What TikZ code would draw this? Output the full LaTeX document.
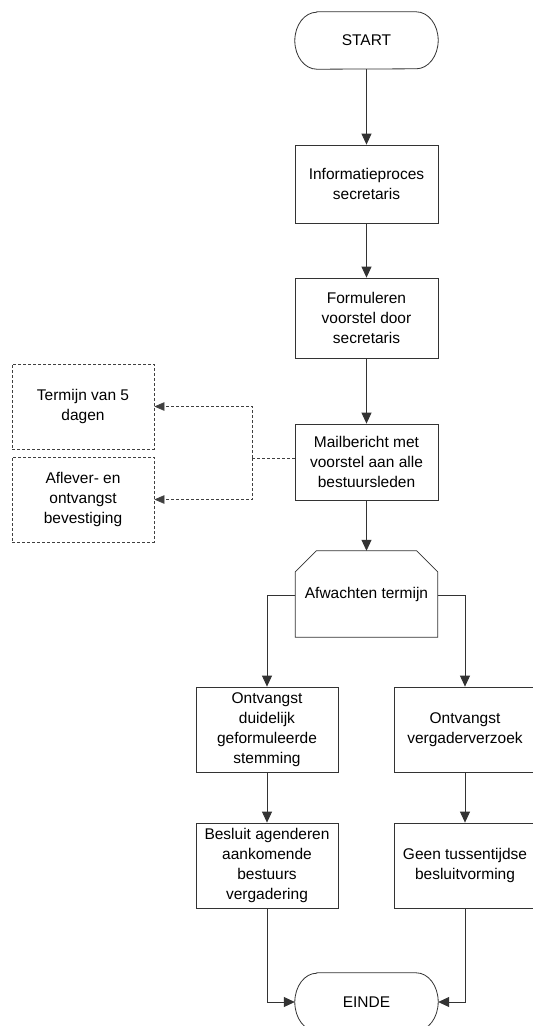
\documentclass[tikz,border=0pt]{standalone}
\usepackage{fontspec}
\setmainfont{Liberation Sans}
\usetikzlibrary{arrows.meta}
\begin{document}
\begin{tikzpicture}[x=1pt,y=-1pt,
  every node/.style={font=\fontsize{15.5}{20}\selectfont, align=center, text=black, inner sep=0pt},
  ln/.style={draw=black!80, line width=0.8pt},
  arr/.style={ln, -{Triangle[length=11pt,width=10pt]}},
  darr/.style={draw=black!75, line width=0.8pt, dash pattern=on 3pt off 2pt, -{Triangle[length=10pt,width=8.5pt]}},
  dline/.style={draw=black!75, line width=0.8pt, dash pattern=on 3pt off 2pt},
  proc/.style={ln, rectangle, minimum width=143pt, minimum height=80pt},
  term/.style={rectangle, minimum width=143pt, minimum height=57pt},
  note/.style={dline, rectangle, minimum width=142pt, minimum height=85pt}
]
\useasboundingbox (0,0) rectangle (533,1026);
\fill[white] (0,0) rectangle (533,1026);

\node[term] (start) at (366.5,40.5) {START};
\draw[ln] ([xshift=22pt]start.north west) -- ([xshift=-22pt]start.north east)
  arc[start angle=90, end angle=-90, x radius=22pt, y radius=28.5pt]
  -- ([xshift=22pt]start.south west)
  arc[start angle=270, end angle=90, x radius=22pt, y radius=28.5pt] -- cycle;

\node[proc, minimum height=78pt] (info) at (366.5,184) {Informatieproces\\secretaris};
\node[proc] (form) at (366.5,318) {Formuleren\\voorstel door\\secretaris};
\node[proc, minimum height=76pt] (mail) at (366.5,462) {Mailbericht met\\voorstel aan alle\\bestuursleden};

\node[note] (termijn) at (83,406.5) {Termijn van 5\\dagen};
\node[note] (aflever) at (83,499.5) {Aflever- en\\ontvangst\\bevestiging};

\node[minimum width=142pt, minimum height=86pt] (afw) at (366.5,594) {Afwachten termijn};
\draw[ln] (afw.south west) -- ([yshift=-21pt]afw.north west) -- ([xshift=21pt]afw.north west)
  -- ([xshift=-21pt]afw.north east) -- ([yshift=-21pt]afw.north east) -- (afw.south east) -- cycle;

\node[proc, minimum width=142pt, minimum height=85pt] (stem) at (267,729.5) {Ontvangst\\duidelijk\\geformuleerde\\stemming};
\node[proc, minimum width=142pt, minimum height=85pt] (verz) at (465,729.5) {Ontvangst\\vergaderverzoek};
\node[proc, minimum width=142pt, minimum height=85pt] (bes) at (267,865.5) {Besluit agenderen\\aankomende\\bestuurs\\vergadering};
\node[proc, minimum width=142pt, minimum height=85pt] (geen) at (465,865.5) {Geen tussentijdse\\besluitvorming};

\node[term, minimum height=58pt] (einde) at (366.5,1002) {EINDE};
\draw[ln] ([xshift=22pt]einde.north west) -- ([xshift=-22pt]einde.north east)
  arc[start angle=90, end angle=-90, x radius=22pt, y radius=29pt]
  -- ([xshift=22pt]einde.south west)
  arc[start angle=270, end angle=90, x radius=22pt, y radius=29pt] -- cycle;

\draw[arr] (start) -- (info);
\draw[arr] (info) -- (form);
\draw[arr] (form) -- (mail);
\draw[arr] (mail) -- (afw);

\coordinate (j) at (252,458);
\draw[dline] (mail.west |- j) -- (j);
\draw[darr] (j) |- (termijn.east);
\draw[darr] (j) |- (aflever.east);

\draw[arr] ([yshift=-1pt]afw.west) -| (stem.north);
\draw[arr] ([yshift=-1pt]afw.east) -| (verz.north);
\draw[arr] (stem) -- (bes);
\draw[arr] (verz) -- (geen);
\draw[arr] (bes.south) |- (einde.west);
\draw[arr] (geen.south) |- (einde.east);
\end{tikzpicture}
\end{document}
